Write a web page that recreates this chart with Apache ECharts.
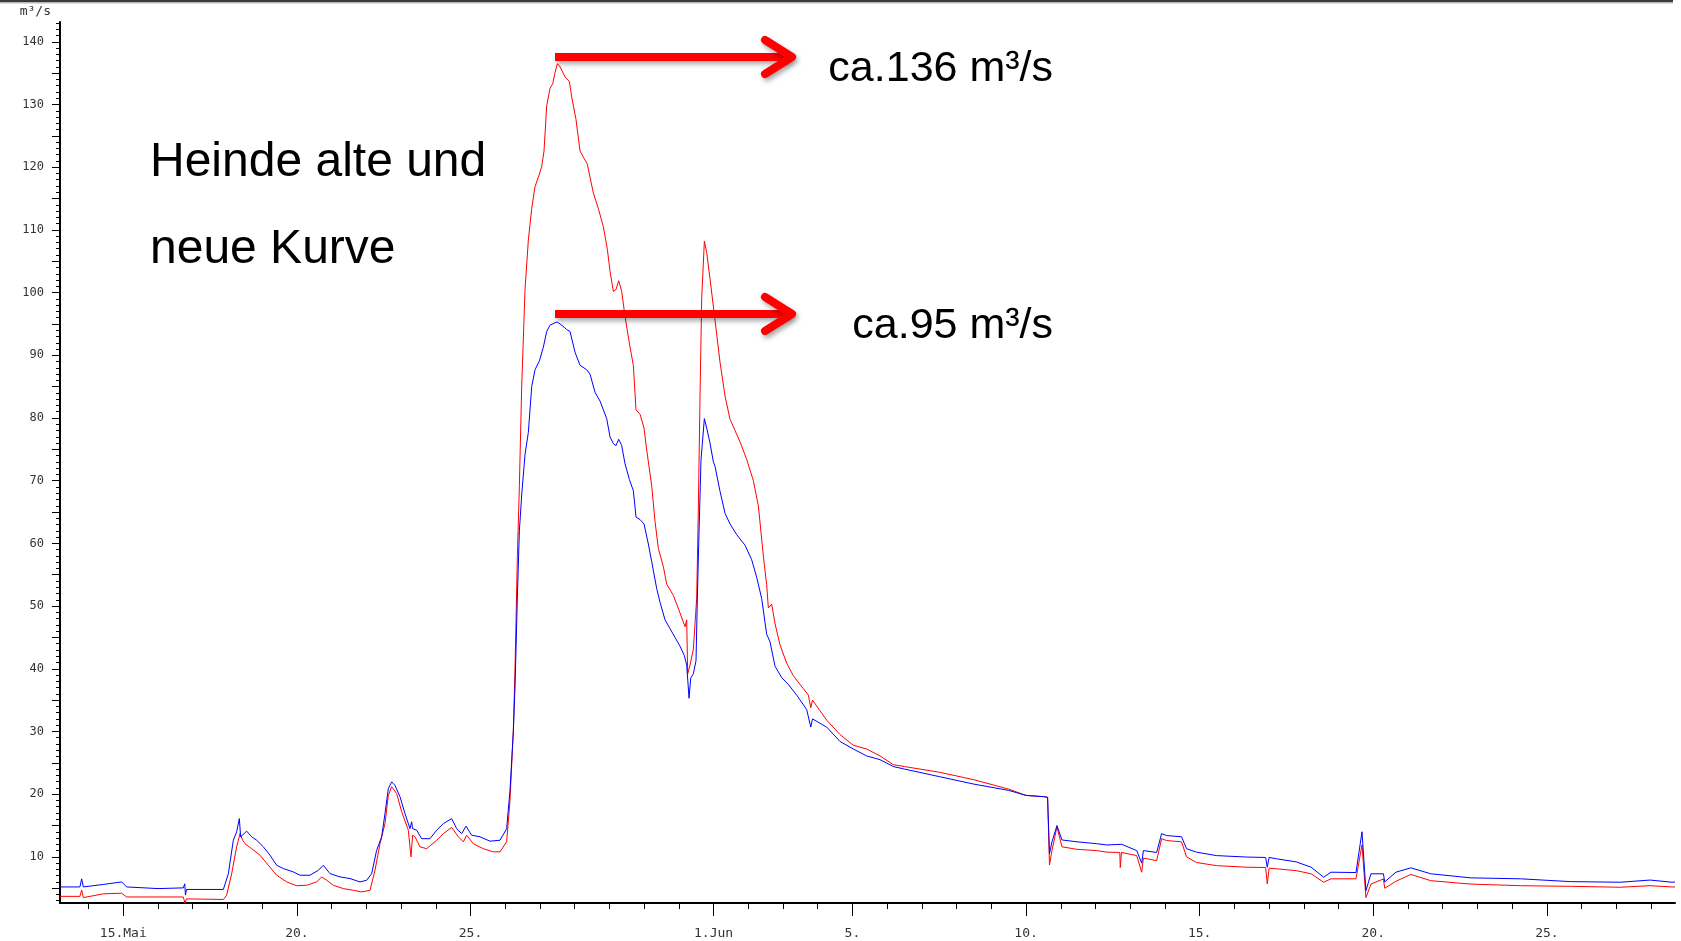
<!DOCTYPE html>
<html>
<head>
<meta charset="utf-8">
<script src="https://cdn.jsdelivr.net/npm/echarts@6/dist/echarts.min.js"></script>
<style>
html,body{margin:0;padding:0;background:#fff;}
#chart{width:1681px;height:941px;}
</style>
</head>
<body>
<div id="chart"></div>
<script>
// x values are days counted from 15 May 00:00
const xTickDays = [0, 5, 10, 17, 21, 26, 31, 36, 41];
const xTickLabels = ['15.Mai', '20.', '25.', '1.Jun', '5.', '10.', '15.', '20.', '25.'];
const yLabelValues = [10, 20, 30, 40, 50, 60, 70, 80, 90, 100, 110, 120, 130, 140];

// red curve (neue Kurve)
const redDays = [-1.823,-1.25,-1.199,-1.15,-0.575,-0.047,0.097,1.0,1.729,1.777,1.82,2.881,2.977,3.121,3.265,3.361,3.438,3.505,3.697,3.937,4.177,4.417,4.705,4.993,5.281,5.569,5.713,5.857,6.049,6.337,6.625,6.865,7.105,7.249,7.393,7.537,7.633,7.729,7.873,8.017,8.209,8.286,8.334,8.401,8.545,8.737,9.025,9.217,9.457,9.649,9.793,9.889,10.081,10.369,10.657,10.849,11.041,11.137,11.234,11.282,11.349,11.407,11.474,11.570,11.666,11.762,11.858,11.954,12.050,12.117,12.194,12.290,12.367,12.434,12.501,12.559,12.626,12.722,12.847,12.914,13.039,13.154,13.250,13.365,13.442,13.538,13.682,13.826,13.941,14.018,14.114,14.191,14.268,14.354,14.450,14.594,14.690,14.767,14.882,14.997,15.074,15.218,15.314,15.410,15.554,15.650,15.842,16.034,16.178,16.226,16.255,16.322,16.418,16.514,16.562,16.610,16.658,16.735,16.802,16.898,17.042,17.186,17.330,17.474,17.618,17.762,17.954,18.146,18.290,18.434,18.530,18.578,18.674,18.770,18.914,19.106,19.298,19.490,19.730,19.800,19.850,20.258,20.642,21.026,21.410,21.794,22.178,22.5,23.5,24.5,25.5,26.0,26.5,26.62,26.675,26.746,26.890,27.033,27.464,28.038,28.325,28.70,28.713,28.75,29.187,29.330,29.38,29.761,29.904,30.048,30.478,30.622,30.909,31.483,32.344,32.90,32.947,33.0,33.206,33.780,34.210,34.569,34.785,35.502,35.675,35.789,35.933,36.292,36.33,36.651,37.081,37.655,38.804,40.239,41.675,43.110,43.971,44.603,44.69];
const redValues = [3.7,3.7,4.7,3.5,4.1,4.2,3.6,3.6,3.6,2.6,3.3,3.2,3.9,7.3,11.6,13.7,12.65,12.1,11.3,10.26,8.66,7.07,6.0,5.4,5.47,6.0,6.8,6.27,5.47,4.94,4.67,4.4,4.67,7.86,12.1,15.3,19.8,21.2,20.1,17.2,14.25,10.0,13.45,13.2,11.6,11.3,12.65,13.7,14.7,13.2,12.4,13.45,12.1,11.3,10.8,10.8,12.4,19.0,30.3,40.0,57.9,69.2,85.0,100.5,108.4,113.4,116.9,118.4,120.1,122.6,129.8,132.6,133.3,135.1,136.5,136.2,135.5,134.4,133.7,131.2,127.6,122.6,121.6,120.5,118.4,115.9,113.4,110.5,106.9,103.4,100.2,100.5,101.9,100.2,96.2,91.3,88.4,81.3,80.6,78.4,74.9,69.2,63.5,59.2,56.3,53.5,51.7,48.9,46.7,47.8,39.2,40.6,43.1,51.3,65.6,83.5,99.1,108.2,106.4,102.2,95.6,88.9,83.5,79.8,78.0,76.2,73.4,70.0,66.0,58.0,53.4,49.7,50.3,47.2,43.8,40.9,38.9,37.5,35.8,33.8,35.0,31.8,29.5,27.8,27.2,26.1,24.7,24.4,23.5,22.3,20.8,19.8,19.6,19.5,8.7,11.0,14.8,11.6,11.2,11.0,10.75,10.7,8.3,10.7,10.2,7.55,9.8,9.4,12.9,12.6,12.4,10.0,9.1,8.6,8.35,8.3,5.7,8.2,8.1,7.8,7.3,5.95,6.5,6.5,11.9,3.5,5.66,6.48,5.0,6.1,7.2,6.2,5.66,5.4,5.3,5.15,5.4,5.2,5.2];

// blue curve (alte Kurve)
const blueDays = [-1.823,-1.25,-1.199,-1.15,-0.575,-0.047,0.097,1.0,1.729,1.77,1.79,1.82,2.881,3.025,3.169,3.265,3.342,3.38,3.553,3.697,3.841,4.033,4.225,4.417,4.609,4.897,5.089,5.377,5.617,5.761,5.953,6.241,6.529,6.817,7.009,7.153,7.297,7.441,7.537,7.633,7.729,7.825,7.969,8.113,8.257,8.305,8.33,8.449,8.593,8.833,9.025,9.217,9.457,9.601,9.745,9.870,10.033,10.273,10.561,10.849,11.041,11.137,11.234,11.282,11.349,11.407,11.474,11.570,11.666,11.762,11.858,11.983,12.098,12.194,12.290,12.434,12.50,12.626,12.770,12.866,13.010,13.154,13.346,13.442,13.586,13.730,13.826,13.922,14.018,14.114,14.191,14.268,14.354,14.450,14.575,14.690,14.767,14.882,14.997,15.122,15.218,15.362,15.458,15.602,15.746,15.890,16.034,16.159,16.226,16.294,16.341,16.418,16.495,16.533,16.582,16.639,16.735,16.802,16.898,16.994,17.042,17.186,17.330,17.474,17.666,17.906,18.098,18.242,18.386,18.530,18.626,18.770,18.962,19.154,19.394,19.682,19.800,19.850,20.258,20.642,21.026,21.410,21.794,22.178,22.5,23.5,24.5,25.5,26.0,26.5,26.62,26.675,26.746,26.890,27.033,27.464,28.038,28.325,28.756,29.187,29.330,29.38,29.761,29.904,30.048,30.478,30.622,30.909,31.483,32.344,32.90,32.947,33.0,33.206,33.780,34.210,34.569,34.785,35.502,35.675,35.789,35.933,36.292,36.33,36.651,37.081,37.655,38.804,40.239,41.675,43.110,43.971,44.603,44.69];
const blueValues = [5.2,5.2,6.5,5.2,5.6,6.0,5.2,4.94,5.05,5.7,3.9,4.8,4.8,7.3,12.65,14.0,16.1,13.2,14.1,13.2,12.65,11.6,10.26,8.66,8.13,7.6,7.07,7.07,7.86,8.66,7.33,6.8,6.54,6.0,6.27,7.33,11.06,13.2,16.9,20.9,21.96,21.4,19.6,16.9,14.5,15.6,14.5,14.25,12.9,12.9,14.25,15.3,16.1,14.5,13.7,14.9,13.45,13.2,12.5,12.65,14.5,20.6,30.0,37.1,51.3,62.0,67.7,74.2,77.7,85.0,87.7,89.1,91.3,93.8,94.8,95.2,95.3,94.8,94.1,93.8,90.5,88.4,87.7,87.0,84.1,82.7,81.3,79.9,77.0,75.9,75.6,76.6,75.6,72.7,70.2,68.4,64.2,63.8,63.1,59.9,57.1,52.8,50.6,47.8,46.4,45.0,43.6,42.1,40.6,35.3,38.5,39.2,41.3,51.3,62.0,73.4,79.9,78.4,76.0,73.0,72.3,68.3,64.8,63.1,61.4,59.7,57.4,54.6,51.2,45.5,44.3,40.4,38.6,37.5,35.8,33.5,30.7,32.0,30.7,28.4,27.2,26.1,25.5,24.4,24.0,22.8,21.6,20.6,19.8,19.6,19.5,10.5,12.4,15.0,12.7,12.4,12.1,11.9,12.0,11.0,9.0,11.0,10.7,13.7,13.4,13.2,11.3,10.75,10.2,9.97,9.9,8.35,9.9,9.7,9.2,8.35,6.75,7.55,7.5,14.0,4.6,7.3,7.3,6.0,7.55,8.25,7.3,6.65,6.5,6.05,5.95,6.3,5.95,6.0];

const X_MIN = -1.823, X_MAX = 44.69, Y_MIN = 2.64, Y_MAX = 143.16;

const minorDayTicks = [];
for (let d = -1; d <= 44; d++) minorDayTicks.push(d);
const minorYTicks = [];
for (let v = 3; v <= 143; v++) minorYTicks.push(v);
const majorYTicks = [];
for (let v = 5; v <= 140; v += 5) majorYTicks.push(v);

const pairs = (xs, ys) => xs.map((x, i) => [x, ys[i]]);

const chart = echarts.init(document.getElementById('chart'), null, {renderer: 'canvas'});

const tickFont = 'DejaVu Sans Mono';
const annFont = 'Liberation Sans';
const arrowShadow = {shadowBlur: 5, shadowColor: 'rgba(0,0,0,0.35)', shadowOffsetX: 2, shadowOffsetY: 3};

function arrow(y) {
  return [
    {type: 'line', shape: {x1: 555, y1: y, x2: 789, y2: y},
     style: Object.assign({stroke: '#ff0000', lineWidth: 8, lineCap: 'butt'}, arrowShadow), z: 100},
    {type: 'polyline', shape: {points: [[765, y - 17], [792, y], [765, y + 17]]},
     style: Object.assign({stroke: '#ff0000', fill: null, lineWidth: 8, lineCap: 'round', lineJoin: 'round'}, arrowShadow), z: 100}
  ];
}

chart.setOption({
  animation: false,
  backgroundColor: '#fff',
  grid: {left: 60, right: 6, top: 22, bottom: 38},
  xAxis: [
    {
      type: 'value', min: X_MIN, max: X_MAX, position: 'bottom',
      axisLine: {show: true, onZero: false, lineStyle: {color: '#000', width: 2}},
      axisTick: {show: true, customValues: minorDayTicks, length: 6, lineStyle: {color: '#000', width: 1}},
      axisLabel: {show: false},
      splitLine: {show: false}
    },
    {
      type: 'value', min: X_MIN, max: X_MAX, position: 'bottom',
      axisLine: {show: false, onZero: false},
      axisTick: {show: true, customValues: xTickDays, length: 13, lineStyle: {color: '#000', width: 1}},
      axisLabel: {
        show: true, customValues: xTickDays, margin: 24,
        fontSize: 13, fontFamily: tickFont, color: '#333',
        formatter: v => { const i = xTickDays.indexOf(v); return i >= 0 ? xTickLabels[i] : ''; }
      },
      splitLine: {show: false}
    }
  ],
  yAxis: [
    {
      type: 'value', min: Y_MIN, max: Y_MAX, position: 'left',
      name: 'm³/s', nameLocation: 'end', nameGap: 4,
      nameTextStyle: {fontSize: 13, fontFamily: tickFont, color: '#333', align: 'right', padding: [0, 9, 0, 0]},
      axisLine: {show: true, onZero: false, lineStyle: {color: '#000', width: 2}},
      axisTick: {show: true, customValues: minorYTicks, length: 4, lineStyle: {color: '#000', width: 1}},
      axisLabel: {show: false},
      splitLine: {show: false}
    },
    {
      type: 'value', min: Y_MIN, max: Y_MAX, position: 'left',
      axisLine: {show: false, onZero: false},
      axisTick: {show: true, customValues: majorYTicks, length: 8, lineStyle: {color: '#000', width: 1}},
      axisLabel: {show: true, customValues: yLabelValues, margin: 16, fontSize: 12, fontFamily: tickFont, color: '#333'},
      splitLine: {show: false}
    }
  ],
  series: [
    {
      name: 'neue Kurve', type: 'line', xAxisIndex: 0, yAxisIndex: 0,
      data: pairs(redDays, redValues), showSymbol: false, symbol: 'none',
      lineStyle: {color: '#ff0000', width: 1}, itemStyle: {color: '#ff0000'}, z: 2
    },
    {
      name: 'alte Kurve', type: 'line', xAxisIndex: 0, yAxisIndex: 0,
      data: pairs(blueDays, blueValues), showSymbol: false, symbol: 'none',
      lineStyle: {color: '#0000ff', width: 1}, itemStyle: {color: '#0000ff'}, z: 3
    }
  ],
  graphic: [
    {type: 'rect', shape: {x: 0, y: 0, width: 1673, height: 2}, style: {fill: '#3a3a3a'}, z: 100},
    {type: 'rect', shape: {x: 0, y: 2, width: 1673, height: 1.5}, style: {fill: '#b8b8b8'}, z: 100},
    {type: 'text', x: 150, y: 163, style: {text: 'Heinde alte und', font: '48px "' + annFont + '"', fill: '#000', textAlign: 'left', textVerticalAlign: 'middle'}, z: 100},
    {type: 'text', x: 150, y: 250, style: {text: 'neue Kurve', font: '48px "' + annFont + '"', fill: '#000', textAlign: 'left', textVerticalAlign: 'middle'}, z: 100},
    {type: 'text', x: 1053, y: 69, style: {text: 'ca.136 m³/s', font: '43px "' + annFont + '"', fill: '#000', textAlign: 'right', textVerticalAlign: 'middle'}, z: 100},
    {type: 'text', x: 1053, y: 326, style: {text: 'ca.95 m³/s', font: '43px "' + annFont + '"', fill: '#000', textAlign: 'right', textVerticalAlign: 'middle'}, z: 100}
  ].concat(arrow(57)).concat(arrow(314))
});
</script>
</body>
</html>
